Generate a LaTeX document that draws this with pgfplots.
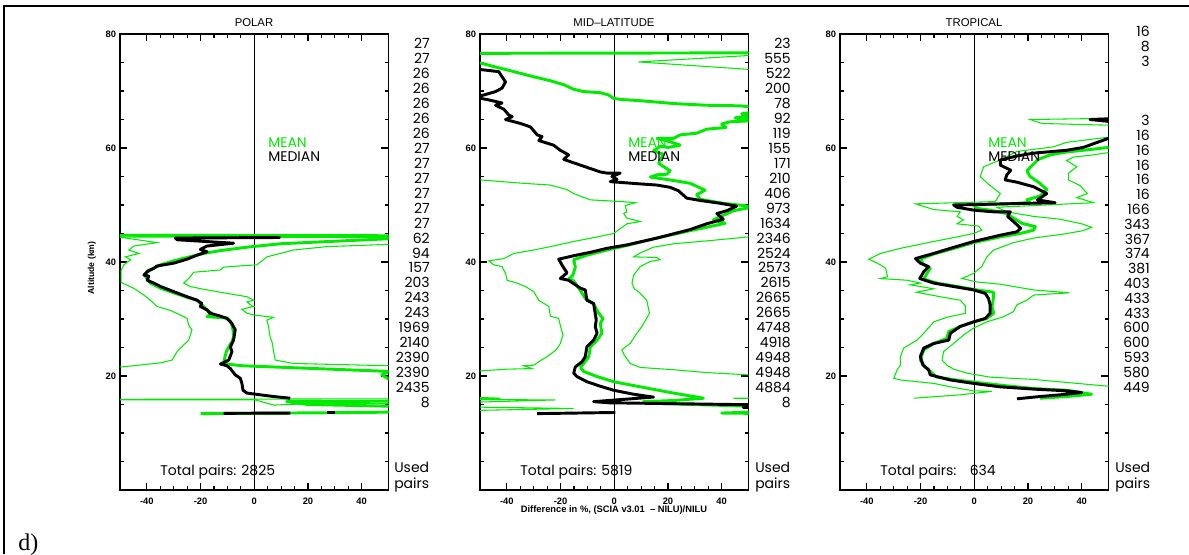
\documentclass[border=0pt]{standalone}
\usepackage{pgfplots}
\pgfplotsset{compat=1.18}
\usepackage{fontspec}
\setmainfont{Liberation Sans}
\newfontfamily\pop{Poppins}
\newfontfamily\serif{Liberation Serif}
\definecolor{idlgreen}{RGB}{0,235,0}

\pgfplotsset{
  panel/.style={
    scale only axis, width=201.4pt, height=342pt, anchor=south west,
    xmin=-50, xmax=50, ymin=0, ymax=80,
    xtick={-40,-20,0,20,40}, minor x tick num=3,
    ytick={0,20,40,60,80}, yticklabels={,20,40,60,80}, minor y tick num=3,
    tick align=inside, major tick length=5.5pt, minor tick length=3pt,
    axis line style={line width=1.1pt},
    every tick/.append style={black, line width=0.8pt},
    tick label style={font=\fontsize{7}{8}\selectfont\bfseries},
    /pgf/number format/assume math mode=true,
    xticklabel style={yshift=-2.5pt},
    yticklabel style={xshift=0.5pt},
  },
  stdline/.style={idlgreen, line width=0.8pt, no marks},
  meanline/.style={idlgreen, line width=2.2pt, no marks, line join=round},
  medline/.style={black, line width=2.2pt, no marks, line join=round},
  zeroline/.style={black, line width=1pt, no marks},
}

\begin{document}
\begin{tikzpicture}
\useasboundingbox (0,0) rectangle (891.75pt,415.5pt);
\draw[line width=1pt] (3pt,0) -- (3pt,411pt) -- (891.75pt,411pt);

% ---------------- POLAR
\begin{axis}[panel, at={(90pt,48pt)}]
\addplot[zeroline] coordinates {(0,0) (0,80)};
\addplot[stdline] coordinates {
(-60,44.4) (-49.2,44.3) (-36.2,43.4) (-44.9,42.8) (-46.7,42.1) (-43,41.5) (-48,40.9)
(-46,40.4) (-48.6,39.5) (-49.6,38.5) (-49.6,36.5) (-49.2,36.3) (-44.9,35.4) (-41.1,34.2)
(-38.7,33.3) (-36.2,32.2) (-31.2,31.5) (-27.5,30.7) (-25,30.1) (-24.4,28.9) (-23.2,28.1)
(-24.4,26.3) (-25.7,25.7) (-27.5,24.9) (-28.7,24.3) (-30.6,22.8) (-34.9,22.3) (-49.2,21.6)
(-60,21.5) (-60,13.5)};
\addplot[stdline] coordinates {
(-60,44.4) (60,44.3) (60,43.1) (50.3,43.1) (27,42.7) (14.6,42.1) (4.7,40.9) (1,39.5)
(-2.7,39.4) (-11.4,39.1) (-12.6,38.6) (-22.6,38.2) (-24.4,37.1) (-26.3,36.3) (-23.8,35.7)
(-18.8,35.2) (-2.7,33.9) (-0.25,33.3) (-2.7,33.0) (-1.5,32.5) (-0.25,32.2) (-4.6,31.7)
(-2.7,31.0) (-0.25,30.7) (7.2,30.3) (4.7,29.8) (5.3,28.7) (5.9,26.9) (6.6,26.0)
(7.2,24.3) (7.8,22.8) (14.6,22.2) (50.3,21.8) (60,21.7) (60,16.0) (-60,15.9) (-60,15.8)
(0.4,15.8) (7.2,14.9) (23.3,15.2) (60,15.2) (60,13.7) (40.6,13.6) (-11.4,13.55)};
\addplot[meanline] coordinates {
(-60,44.7) (60,44.6) (60,44.3) (9.7,43.2) (-2.7,42.6) (-12.6,42.0) (-18.8,41.5)
(-25,40.8) (-30,40.2) (-34.9,39.5) (-37.4,38.9) (-39.7,38.5) (-40.5,37.4) (-39.7,37.0)
(-38.7,36.3) (-34.9,35.4) (-30,34.6) (-25,33.8) (-21.3,33.3) (-19.5,32.5) (-17,31.3)
(-15.7,31.0) (-17.6,30.4) (-10.2,30.2) (-8.7,29.5) (-7.9,28.1) (-7.7,26.9) (-8.3,26.0)
(-9.5,25.1) (-10.4,24.3) (-11.2,22.8) (-10.2,22.1) (-4.6,21.8) (50.3,20.8) (47.5,20.2)
(50.3,19.4) (60,19.0) (60,15.6) (12.1,15.5) (20,15.0) (50.3,14.7) (60,14.6) (60,13.7)
(27,13.55) (-20,13.4)};
\addplot[medline] coordinates {
(9.7,44.3) (-29.4,44.2) (-28.7,43.9) (-7.7,43.3) (-17.6,42.8) (-20.1,42.2) (-17.6,41.8)
(-21.3,41.2) (-25,40.5) (-30,39.8) (-36.2,39.3) (-37.4,38.9) (-39.9,38.3) (-41.1,37.7)
(-39.3,37.5) (-39.9,36.8) (-37.4,36.3) (-34.9,35.7) (-30,34.8) (-25,33.9) (-21.3,33.3)
(-19.5,32.7) (-20.1,32.2) (-17.6,31.6) (-16.4,31.0) (-12.6,30.5) (-10.2,30.1) (-8.3,29.2)
(-7.1,28.1) (-7.7,26.3) (-8.9,25.1) (-8.3,24.3) (-9.5,22.8) (-12.6,22.1) (-10.2,21.8)
(-8.9,21.3) (-7.1,20.2) (-5.2,19.6) (-4.6,18.7) (-4.2,17.5) (-2.7,17.0) (2.2,16.7)
(7.2,16.4) (13.4,16.1)};
\addplot[medline] coordinates {(13.4,13.5) (-11.4,13.45)};
\addplot[medline] coordinates {(27,13.6) (30,13.6)};
\end{axis}

% ---------------- MID-LATITUDE
\begin{axis}[panel, at={(360pt,48pt)}]
\addplot[zeroline] coordinates {(0,0) (0,80)};
\addplot[stdline] coordinates {
(-60,54.5) (-49.8,54.4) (-33.7,53.8) (-23.8,53.5) (-17.6,52.7) (-15.1,52.0) (-8.9,50.9)
(2.8,50.6) (7.8,50.4) (4.1,49.9) (4.7,48.8) (3.5,48.5) (4.7,47.7) (9.7,47.1) (4.7,46.7)
(-0.25,45.0) (-6.4,44.4) (-15.1,43.6) (-23.8,42.7) (-30,42.1) (-37.4,41.5) (-41.1,40.6)
(-46.7,40.2) (-44.9,39.5) (-41.8,39.2) (-40.5,38.0) (-39.9,36.8) (-36.2,36.3) (-33.1,35.7)
(-30,34.8) (-28.1,33.3) (-24.4,32.2) (-23.8,30.5) (-20.7,30.1) (-20.1,28.9) (-19.1,27.2)
(-20.1,25.7) (-21.6,24.6) (-25,23.4) (-27.5,22.7) (-30,21.9) (-33.7,21.8) (-30.6,21.3)
(-39.9,21.2) (-49.8,20.9) (-60,20.5) (-60,16.4) (-42.4,16.1) (-60,15.9) (-21.9,15.8)
(-60,15.3) (-60,14.6) (-15.1,14.3) (-47.3,14.0) (-60,13.9)};
\addplot[stdline] coordinates {
(60,76.5) (9,75.1) (50,73.8) (60,73.5) (60,44.5) (50,44.4) (34.4,43.7) (22.1,43.2)
(14.6,42.6) (9.7,41.6) (7.2,40.9) (15.9,40.8) (17.1,40.4) (13.4,40.1) (9.7,39.2) (7.2,37.7)
(6.6,36.3) (7.5,35.3) (9.7,34.5) (12.1,33.3) (13.1,31.0) (12.4,30.4) (10.3,28.7) (8.4,27.5)
(5.9,25.7) (2.8,24.6) (3.7,23.7) (5.9,22.2) (9.7,21.5) (22.1,21.1) (34.4,20.6) (50,20.2)
(60,20.0) (60,16.2) (44.4,16.1) (60,16.0) (60,15.5)};
\addplot[meanline] coordinates {
(60,76.7) (-60,76.6) (-60,75.0) (-49.8,74.9) (-44.9,74.3) (-39.9,73.7) (-30,72.5)
(-23.8,71.8) (-18.8,71.1) (-15.1,70.3) (-11.4,69.9) (-5.2,69.7) (-2.1,69.3) (-0.25,68.7)
(2.8,68.5) (9.7,68.3) (22.1,67.8) (34.4,67.5) (46.8,67.4) (53,67.1) (53,66.4) (47.5,66.0)
(50,65.5) (45,65.3) (52,64.8) (43.1,64.6) (40,64.2) (41.6,63.6) (34.4,63.3) (30.7,62.6)
(24.5,62.3) (22.1,61.7) (15.9,61.7) (20.8,61.1) (24.5,60.5) (20.2,60.1) (17.1,60.3)
(14.6,59.5) (18.3,58.9) (16.5,57.3) (20.8,56.0) (19.6,55.4) (15.9,55.3) (13.4,54.9)
(22.1,54.3) (28.3,53.8) (33.8,52.6) (30.7,51.8) (32,51.0) (40.6,50.3) (52,49.7)
(44.4,49.0) (40.6,48.2) (36.9,47.4) (41.3,46.8) (34.4,46.1) (28.3,45.5) (15.9,44.2)
(4.7,42.9) (-2.7,42.1) (-10.2,41.2) (-15.1,40.4) (-14.5,39.1) (-15.4,37.7) (-17,37.0)
(-15.1,36.7) (-12.6,35.0) (-10.8,33.6) (-7.7,32.7) (-5.8,31.0) (-4.2,30.1) (-5.2,29.2)
(-4.6,27.5) (-6.4,26.3) (-8.9,25.1) (-9.5,23.4) (-11.4,22.2) (-12.6,21.5) (-11.4,20.8)
(-6.4,19.9) (-0.25,19.0) (9.7,18.1) (22.1,17.0) (33.2,16.1) (22.1,15.7) (10.9,15.5)
(15.9,15.2) (50,14.7) (60,14.6) (60,13.8) (40,13.5) (60,13.4)};
\addplot[medline] coordinates {
(-60,74.3) (-43,73.4) (-41.8,72.5) (-40.5,71.6) (-41.8,70.5) (-44.2,69.9) (-48.6,69.3)
(-52,68.9) (-47.3,68.5) (-43.6,68.1) (-41.8,67.9) (-44.2,67.5) (-41.1,66.8) (-39.3,65.8)
(-38,65.5) (-40.5,65.0) (-34.9,64.3) (-31.2,63.7) (-28.7,62.3) (-26.9,62.0) (-28.1,61.3)
(-22.6,60.5) (-20.1,59.6) (-17,58.8) (-18.8,58.0) (-15.1,57.4) (-8.9,56.4) (-5.2,55.8)
(-2.7,55.6) (2.2,55.6) (-0.9,55.0) (1,54.5) (-1.5,54.1) (9.7,53.7) (15.9,53.5) (20.8,53.1)
(23.9,52.5) (27,51.2) (32,50.8) (39.4,50.3) (45.6,49.8) (41.9,49.0) (38.2,48.5) (40.6,47.5)
(34.4,46.7) (28.3,45.7) (15.9,44.2) (4.7,43.0) (-2.7,42.4) (-8.9,41.7) (-15.1,41.1)
(-20.7,40.5) (-19.5,39.5) (-17.6,38.1) (-20.1,37.1) (-17,36.8) (-12.6,35.4) (-10.8,35.1)
(-10.2,33.3) (-7.7,32.7) (-7.1,31.0) (-6.7,29.8) (-7.1,28.7) (-6.4,27.5) (-7.7,26.3)
(-10.2,25.1) (-10.8,23.4) (-12,22.5) (-14.5,21.6) (-15.1,20.5) (-13.9,19.9) (-10.2,19.0)
(-5.2,18.2) (-0.25,17.5) (7.2,16.8) (14.6,16.3) (-7.7,15.5) (-2,15.3) (60,14.9)};
\addplot[medline] coordinates {(60,14.6) (48,14.5) (60,14.3)};
\addplot[medline] coordinates {(0.4,13.6) (-28.7,13.4)};
\end{axis}

% ---------------- TROPICAL
\begin{axis}[panel, at={(630pt,48pt)}]
\addplot[zeroline] coordinates {(0,0) (0,80)};
\addplot[stdline] coordinates {
(60,62.0) (50,61.9) (34.4,61.0) (29.5,60.2) (15.9,59.4) (9.7,57.9) (3.5,56.7) (2.2,55.0)
(4.7,53.9) (9.7,52.0) (7.8,50.6) (-21.9,50.2) (-15.1,49.2) (-5.2,48.8) (-6.4,48.0)
(-4,47.4) (-6.4,46.7) (1.6,46.3) (2.8,45.6) (-0.25,45.0) (-6.4,44.4) (-15.1,43.6)
(-27.5,42.4) (-34.9,41.5) (-39.3,40.5) (-34.9,39.5) (-33,38.9) (-32.3,37.4) (-34.9,37.1)
(-25,36.8) (-20.1,36.3) (-23.8,36.0) (-15.1,35.3) (-21.5,34.7) (-12.6,33.9) (-5.2,33.3)
(-3.3,32.3) (-3.3,31.0) (-10.2,30.3) (-15.1,29.5) (-18.8,27.5) (-21.3,26.3) (-26.3,24.9)
(-27.5,23.4) (-27.5,21.9) (-28.7,21.1) (-30,19.6) (-27.5,19.3) (-15.1,18.7) (-8.9,18.1)
(-0.25,17.4) (6.6,17.3) (-5.2,16.7) (-22.6,16.1)};
\addplot[stdline] coordinates {
(60,65.3) (50,65.2) (20.8,65.0) (25.2,64.3) (50,64.0) (60,63.9) (60,59.3) (50,59.2)
(44.4,58.8) (36.9,58.4) (34.4,57.8) (38.2,56.7) (35.1,55.6) (35.1,54.4) (39.4,53.4)
(42.1,52.0) (38.2,51.3) (44.4,50.4) (8.4,49.6) (12.1,48.8) (22.1,48.0) (32,47.5) (40,46.7)
(43.7,46.1) (40.6,45.5) (33.2,44.9) (22.1,44.2) (14.6,43.4) (7.2,42.1) (4.7,40.9)
(2.8,39.2) (-0.25,38.0) (-4.6,37.1) (1,36.5) (9.7,36.1) (22.1,35.1) (35.4,34.6) (22.1,34.2)
(19.6,33.3) (15.9,32.5) (14.6,31.3) (10.9,30.4) (4.7,29.5) (-0.25,28.4) (-4,27.2)
(-7.7,25.7) (-11.4,24.3) (-12,22.8) (-10.2,21.9) (-7.7,21.2) (-2.7,20.5) (5.9,19.8)
(22.1,19.4) (50,18.2) (60,17.8)};
\addplot[meanline] coordinates {
(60,60.2) (50,60.1) (40.6,59.6) (34.4,59.3) (28.3,58.8) (23.9,58.0) (22.1,57.2) (19.6,56.0)
(20.8,55.0) (24.5,53.8) (27,52.7) (24.5,51.6) (19.6,50.9) (20.8,50.4) (-0.25,50.0) (1,49.4)
(5.9,49.1) (12.1,48.5) (14.6,47.7) (17.7,46.8) (22.7,46.2) (22.1,45.6) (17.1,45.0)
(9.7,44.4) (-0.25,43.4) (-8.9,42.2) (-15.1,41.4) (-20.1,40.5) (-18.8,39.5) (-16.4,38.9)
(-17.6,38.0) (-18.8,37.0) (-13.9,36.3) (-6.4,35.7) (1,35.1) (7.2,34.7) (7.2,33.9)
(6.6,32.2) (7.2,31.0) (4.7,30.1) (-0.25,29.5) (-5.2,28.7) (-9.5,27.8) (-10.2,26.6)
(-15.1,25.7) (-18.8,24.6) (-20.1,22.8) (-18.3,21.6) (-16.4,20.8) (-13.9,19.8) (-5.2,19.2)
(9.7,18.4) (22.1,17.8) (34.4,17.5) (43.7,16.8) (34.4,16.4) (24.5,16.1)};
\addplot[medline] coordinates {
(60,65.3) (43.1,65.0) (60,64.2) (60,61.8) (50,61.7) (40.6,60.1) (34.4,59.6) (29.5,59.4)
(22.1,59.1) (15.9,58.6) (9.7,57.9) (9.7,57.0) (13.6,56.1) (12.1,55.3) (11.5,54.4)
(15.9,54.0) (22.1,53.2) (27,52.0) (23.5,50.9) (30.1,50.4) (-7.7,50.0) (-6.4,49.6)
(-0.25,49.1) (7.2,48.8) (13.4,48.8) (12.4,48.0) (14.6,47.1) (17.3,45.9) (15.9,45.3)
(9.7,44.7) (-0.25,43.6) (-8.9,42.4) (-15.1,41.5) (-21.9,40.6) (-20.1,39.8) (-17,39.2)
(-18.8,38.3) (-20.3,37.1) (-15.1,36.3) (-7.7,35.7) (-0.25,35.1) (4.1,34.5) (5.3,33.6)
(5.9,32.5) (5.9,31.0) (4.1,30.1) (-0.25,29.5) (-5.2,28.7) (-8.9,27.5) (-9.5,26.3)
(-15.1,25.7) (-18.8,24.9) (-20.1,23.4) (-19.1,21.9) (-17,21.1) (-16.4,20.2) (-8.9,19.3)
(-0.25,18.7) (9.7,18.1) (22.1,17.7) (34.4,17.4) (40,17.1) (32,16.7) (24.5,16.4) (15.9,16.0)};
\end{axis}

% ---------------- texts
\begin{scope}[font=\fontsize{8.5}{9}\selectfont]
\node at (190.5pt,398.25pt) {POLAR};
\node at (460.5pt,398.25pt) {MID--LATITUDE};
\node at (730.5pt,398.25pt) {TROPICAL};
\end{scope}

\node[font=\fontsize{7}{8}\selectfont\bfseries] at (460.5pt,33pt)
  {Difference in \%, (SCIA v3.01\ \ -- NILU)/NILU};
\node[font=\fontsize{6.5}{7}\selectfont\bfseries, rotate=90] at (69pt,214.5pt) {Altitude (km)};

\begin{scope}[font=\pop\fontsize{10.5}{12}\selectfont]
\foreach \xx in {201pt,471pt,741pt} {
  \node[anchor=base west, text=idlgreen, inner sep=0pt] at (\xx,304.5pt) {MEAN};
  \node[anchor=base west, inner sep=0pt] at (\xx,294pt) {MEDIAN};
}
\node[anchor=base west, inner sep=0pt] at (120pt,59.25pt) {Total pairs: 2825};
\node[anchor=base west, inner sep=0pt] at (390pt,59.25pt) {Total pairs: 5819};
\node[anchor=base west, inner sep=0pt] at (660pt,59.25pt) {Total pairs:\hspace{10pt}634};
\foreach \xx in {295.5pt,566.25pt,836.25pt} {
  \node[anchor=base west, inner sep=0pt] at (\xx,61pt) {Used};
  \node[anchor=base west, inner sep=0pt] at (\xx,49pt) {pairs};
}
\foreach \v [count=\i from 0] in {27,27,26,26,26,26,26,27,27,27,27,27,27,62,94,157,203,243,243,1969,2140,2390,2390,2435,8}
  \node[anchor=base east, inner sep=0pt] at (322.5pt,{378.75pt-11.2pt*\i}) {\v};
\foreach \v [count=\i from 0] in {23,555,522,200,78,92,119,155,171,210,406,973,1634,2346,2524,2573,2615,2665,2665,4748,4918,4948,4948,4884,8}
  \node[anchor=base east, inner sep=0pt] at (593.25pt,{378.75pt-11.2pt*\i}) {\v};
\foreach \v [count=\i from 0] in {16,8,3,{},{},{},3,16,16,16,16,16,166,343,367,374,381,403,433,433,600,600,593,580,449}
  \node[anchor=base east, inner sep=0pt] at (862.5pt,{387.75pt-11.1pt*\i}) {\v};
\end{scope}

\node[anchor=base west, inner sep=0pt, font=\serif\fontsize{18}{20}\selectfont] at (13.5pt,2.5pt) {d)};
\end{tikzpicture}
\end{document}
